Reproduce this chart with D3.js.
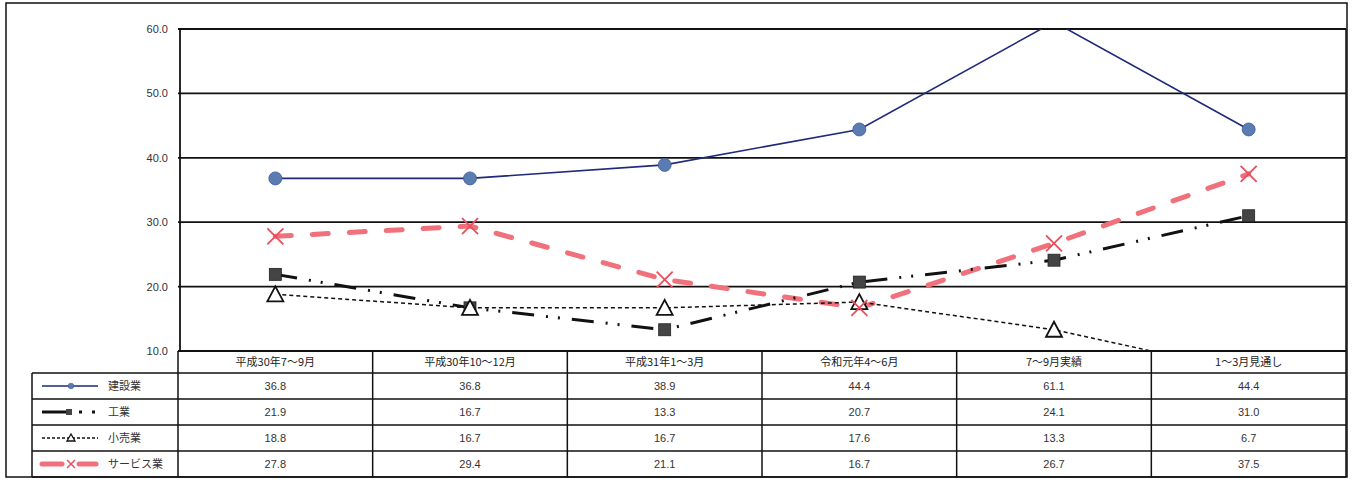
<!DOCTYPE html>
<html><head><meta charset="utf-8">
<script src="https://cdn.jsdelivr.net/npm/d3@7"></script>
<style>
body{margin:0;background:#fff;}
svg{display:block;font-family:"Noto Sans CJK JP","Noto Sans",sans-serif;}
</style></head>
<body>
<svg id="chart" width="1352" height="485"></svg>
<script>
const categories = ["平成30年7～9月","平成30年10～12月","平成31年1～3月","令和元年4～6月","7～9月実績","1～3月見通し"];
const seriesNames = ["建設業","工業","小売業","サービス業"];
const kensetsu = [36.8,36.8,38.9,44.4,61.1,44.4];
const kogyo = [21.9,16.7,13.3,20.7,24.1,31.0];
const kouri = [18.8,16.7,16.7,17.6,13.3,6.7];
const service = [27.8,29.4,21.1,16.7,26.7,37.5];
const yTicks = [10,20,30,40,50,60];

const seriesValues = [kensetsu,kogyo,kouri,service];

const svg = d3.select("#chart");
const L = 178, R = 1346, T = 29, B = 351;
const x = d3.scaleBand().domain(categories).range([L, R]).padding(0);
const y = d3.scaleLinear().domain([10,60]).range([B, T]);
const cx = c => x(c) + x.bandwidth()/2;

// outer frame
svg.append("rect").attr("x",6).attr("y",3).attr("width",1341).attr("height",474)
  .attr("fill","none").attr("stroke","#111").attr("stroke-width",1.5);

// gridlines
const yAxis = d3.axisLeft(y).tickValues(yTicks).tickFormat(d3.format(".1f")).tickSize(0).tickPadding(10);
const gy = svg.append("g").attr("transform",`translate(${L},0)`).call(yAxis);
gy.select(".domain").remove();
gy.selectAll("text").attr("font-size",11).attr("fill","#333").attr("font-family","Liberation Sans, Arial, sans-serif");
svg.append("g").selectAll("line").data(yTicks).join("line")
  .attr("x1",L).attr("x2",R).attr("y1",d=>y(d)).attr("y2",d=>y(d))
  .attr("stroke","#111").attr("stroke-width",1.8);
// plot border left/right
svg.append("line").attr("x1",L+2).attr("x2",L+2).attr("y1",T).attr("y2",B).attr("stroke","#111").attr("stroke-width",1.8);
svg.append("line").attr("x1",R).attr("x2",R).attr("y1",T).attr("y2",B).attr("stroke","#111").attr("stroke-width",1.5);

// clip
svg.append("defs").append("clipPath").attr("id","clip").append("rect")
  .attr("x",L).attr("y",T).attr("width",R-L).attr("height",B-T);

const plot = svg.append("g").attr("clip-path","url(#clip)");
const line = d3.line().x((d,i)=>cx(categories[i])).y(d=>y(d));

// サービス業
plot.append("path").datum(service).attr("d",line).attr("fill","none")
  .attr("stroke","#f0707c").attr("stroke-width",5).attr("stroke-linecap","round")
  .attr("stroke-dasharray","16,21");
// 工業
plot.append("path").datum(kogyo).attr("d",line).attr("fill","none")
  .attr("stroke","#111").attr("stroke-width",3)
  .attr("stroke-dasharray","22,12,2,10,2,12");
// 小売業
plot.append("path").datum(kouri).attr("d",line).attr("fill","none")
  .attr("stroke","#111").attr("stroke-width",1.5).attr("stroke-dasharray","4,3");
// 建設業
plot.append("path").datum(kensetsu).attr("d",line).attr("fill","none")
  .attr("stroke","#1f2a78").attr("stroke-width",1.6);

// markers
function circleM(g){ g.append("circle").attr("r",6.5).attr("fill","#5b7bb3").attr("stroke","#3f5c96").attr("stroke-width",0.8); }
function squareM(g){ g.append("rect").attr("x",-6).attr("y",-6).attr("width",12).attr("height",12).attr("fill","#444").attr("stroke","#222").attr("stroke-width",0.8); }
function triM(g){ g.append("path").attr("d","M0,-8L8,7L-8,7Z").attr("fill","#fff").attr("stroke","#111").attr("stroke-width",1.8); }
function xM(g){ g.append("path").attr("d","M-8,-8L8,8M-8,8L8,-8").attr("stroke","#e8505e").attr("stroke-width",1.8); }
const markerFns = [circleM, squareM, triM, xM];
[ [kogyo,1],[kouri,2],[service,3],[kensetsu,0] ].forEach(([vals,k])=>{
  plot.selectAll(null).data(vals).join("g")
    .attr("transform",(d,i)=>`translate(${cx(categories[i])},${y(d)})`)
    .each(function(){ markerFns[k](d3.select(this)); });
});

// table
const rowTops = [351,373,399,425,451,477];
const tbl = svg.append("g");
// header row border (category columns only)
tbl.append("line").attr("x1",L).attr("x2",R).attr("y1",rowTops[0]).attr("y2",rowTops[0]).attr("stroke","#111").attr("stroke-width",1.8);
for(let r=1;r<rowTops.length;r++){
  tbl.append("line").attr("x1",32).attr("x2",R).attr("y1",rowTops[r]).attr("y2",rowTops[r]).attr("stroke","#111").attr("stroke-width",1.5);
}
// vertical lines
tbl.append("line").attr("x1",32).attr("x2",32).attr("y1",rowTops[1]).attr("y2",rowTops[5]).attr("stroke","#111").attr("stroke-width",1.5);
categories.forEach(c=>{
  tbl.append("line").attr("x1",x(c)).attr("x2",x(c)).attr("y1",rowTops[0]).attr("y2",rowTops[5]).attr("stroke","#111").attr("stroke-width",1.5);
});
tbl.append("line").attr("x1",R).attr("x2",R).attr("y1",rowTops[0]).attr("y2",rowTops[5]).attr("stroke","#111").attr("stroke-width",1.5);

// header text
tbl.selectAll("text.hdr").data(categories).join("text").attr("class","hdr")
  .attr("x",d=>cx(d)).attr("y",(rowTops[0]+rowTops[1])/2+4).attr("text-anchor","middle")
  .attr("font-size",11).attr("fill","#222").text(d=>d);
// values
seriesValues.forEach((vals,r)=>{
  const ym = (rowTops[r+1]+rowTops[r+2])/2+4;
  tbl.selectAll(null).data(vals).join("text")
    .attr("x",(d,i)=>cx(categories[i])).attr("y",ym).attr("text-anchor","middle")
    .attr("font-size",11).attr("fill","#333").attr("font-family","Liberation Sans, Arial, sans-serif")
    .text(d=>d3.format(".1f")(d));
});

// legend keys
const lg = svg.append("g");
seriesNames.forEach((name,r)=>{
  const ym = (rowTops[r+1]+rowTops[r+2])/2;
  const g = lg.append("g").attr("transform",`translate(0,${ym})`);
  if(r===0){
    g.append("line").attr("x1",42).attr("x2",98).attr("stroke","#1f2a78").attr("stroke-width",1.6);
    g.append("circle").attr("cx",71).attr("r",2.8).attr("fill","#5b7bb3").attr("stroke","#3f5c96").attr("stroke-width",0.6);
  } else if(r===1){
    g.append("line").attr("x1",42).attr("x2",66).attr("stroke","#111").attr("stroke-width",3);
    g.append("rect").attr("x",66).attr("y",-3).attr("width",6).attr("height",6).attr("fill","#444");
    g.append("rect").attr("x",79).attr("y",-1.5).attr("width",3).attr("height",3).attr("fill","#111");
    g.append("rect").attr("x",92).attr("y",-1.5).attr("width",3).attr("height",3).attr("fill","#111");
  } else if(r===2){
    g.append("line").attr("x1",42).attr("x2",98).attr("stroke","#111").attr("stroke-width",1.5).attr("stroke-dasharray","3,2");
    g.append("path").attr("d","M71,-4L75,3L67,3Z").attr("fill","#fff").attr("stroke","#111").attr("stroke-width",1.3);
  } else {
    g.append("line").attr("x1",42).attr("x2",62).attr("stroke","#f0707c").attr("stroke-width",5).attr("stroke-linecap","round");
    g.append("line").attr("x1",79).attr("x2",96).attr("stroke","#f0707c").attr("stroke-width",5).attr("stroke-linecap","round");
    g.append("path").attr("d","M67,-4L75,4M67,4L75,-4").attr("stroke","#e8505e").attr("stroke-width",1.5);
  }
  g.append("text").attr("x",108).attr("y",4).attr("font-size",11).attr("fill","#333").text(name);
});
</script>
</body></html>
